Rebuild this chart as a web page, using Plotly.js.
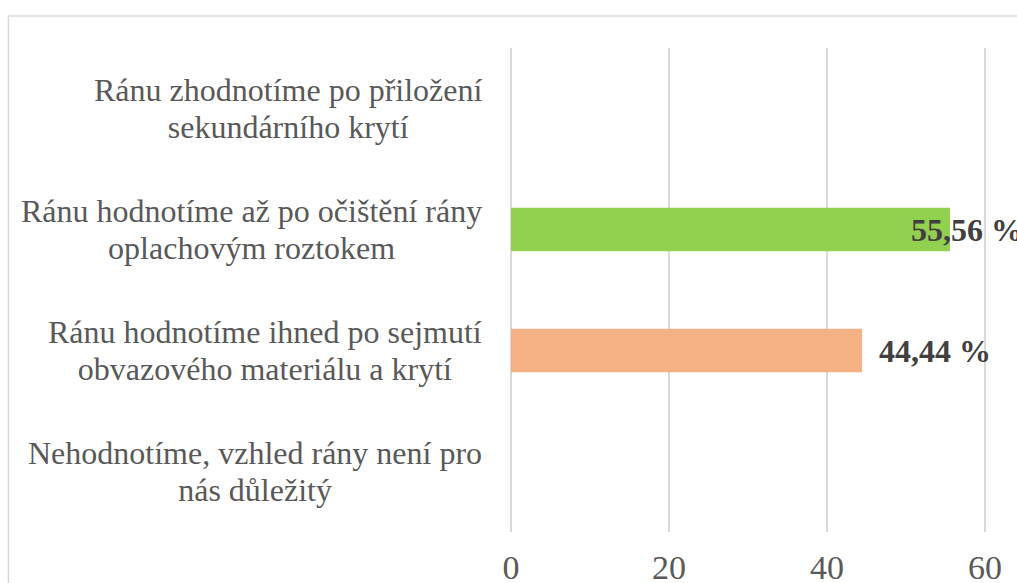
<!DOCTYPE html>
<html>
<head>
<meta charset="utf-8">
<script src="https://cdn.plot.ly/plotly-3.0.1.min.js"></script>
<style>
  html, body { margin: 0; padding: 0; background: #ffffff; overflow: hidden; }
  #chart { width: 1017px; height: 583px; }
</style>
</head>
<body>
<div id="chart"></div>
<script>
// Categories (top to bottom as shown), one entry per line of the label
const categories = [
  ["Ránu zhodnotíme po přiložení", "sekundárního krytí"],
  ["Ránu hodnotíme až po očištění rány", "oplachovým roztokem"],
  ["Ránu hodnotíme ihned po sejmutí", "obvazového materiálu a krytí"],
  ["Nehodnotíme, vzhled rány není pro", "nás důležitý"]
];
const values = [0, 55.56, 44.44, 0];
const barColors = ["#92d050", "#92d050", "#f4b183", "#f4b183"];
const labelShift = [15, -41, 15, 15];
const xTicks = [0, 20, 40, 60];

const FONT = "Liberation Serif, Times New Roman, serif";
const catIds = categories.map((c, i) => "c" + i);

const trace = {
  type: "bar",
  orientation: "h",
  y: catIds,
  x: values,
  width: 0.36,
  marker: { color: barColors },
  hoverinfo: "skip"
};

const annotations = [];
categories.forEach((lines, i) => {
  annotations.push({
    xref: "paper", yref: "y",
    x: -0.054, y: catIds[i],
    xanchor: "right", yanchor: "middle",
    align: "center",
    text: lines.map(l => '<span style="font-size:32px">' + l + '</span>').join("<br>"),
    showarrow: false,
    font: { family: FONT, size: 28.4, color: "#595959" }
  });
  if (values[i] > 0) {
    annotations.push({
      xref: "x", yref: "y",
      x: values[i], y: catIds[i],
      xanchor: "left", yanchor: "middle",
      xshift: labelShift[i],
      text: values[i].toFixed(2).replace(".", ",") + " %",
      showarrow: false,
      font: { family: FONT, size: 32, color: "#404040", weight: "bold" }
    });
  }
});

const layout = {
  width: 1017, height: 583,
  margin: { l: 511, r: 0, t: 47.5, b: 50.5, pad: 0 },
  paper_bgcolor: "#ffffff",
  plot_bgcolor: "#ffffff",
  showlegend: false,
  xaxis: {
    range: [0, 64.05],
    tickvals: xTicks,
    ticktext: xTicks.map(String),
    showgrid: true,
    gridcolor: "#d9d9d9",
    gridwidth: 1.5,
    zeroline: true,
    zerolinecolor: "#d9d9d9",
    zerolinewidth: 1.5,
    showline: false,
    ticks: "",
    ticklabelstandoff: 12,
    tickfont: { family: FONT, size: 34, color: "#595959" },
    fixedrange: true
  },
  yaxis: {
    type: "category",
    categoryorder: "array",
    categoryarray: catIds,
    autorange: "reversed",
    showticklabels: false,
    showgrid: false,
    zeroline: false,
    showline: false,
    ticks: "",
    fixedrange: true
  },
  annotations: annotations,
  shapes: [{
    type: "rect", xref: "paper", yref: "paper",
    x0: -0.9931, x1: 1.2, y0: -0.3, y1: 1.066,
    line: { color: "#d9d9d9", width: 1.5 },
    fillcolor: "rgba(0,0,0,0)",
    layer: "below"
  }]
};

Plotly.newPlot("chart", [trace], layout, { staticPlot: true, displayModeBar: false });
</script>
</body>
</html>
